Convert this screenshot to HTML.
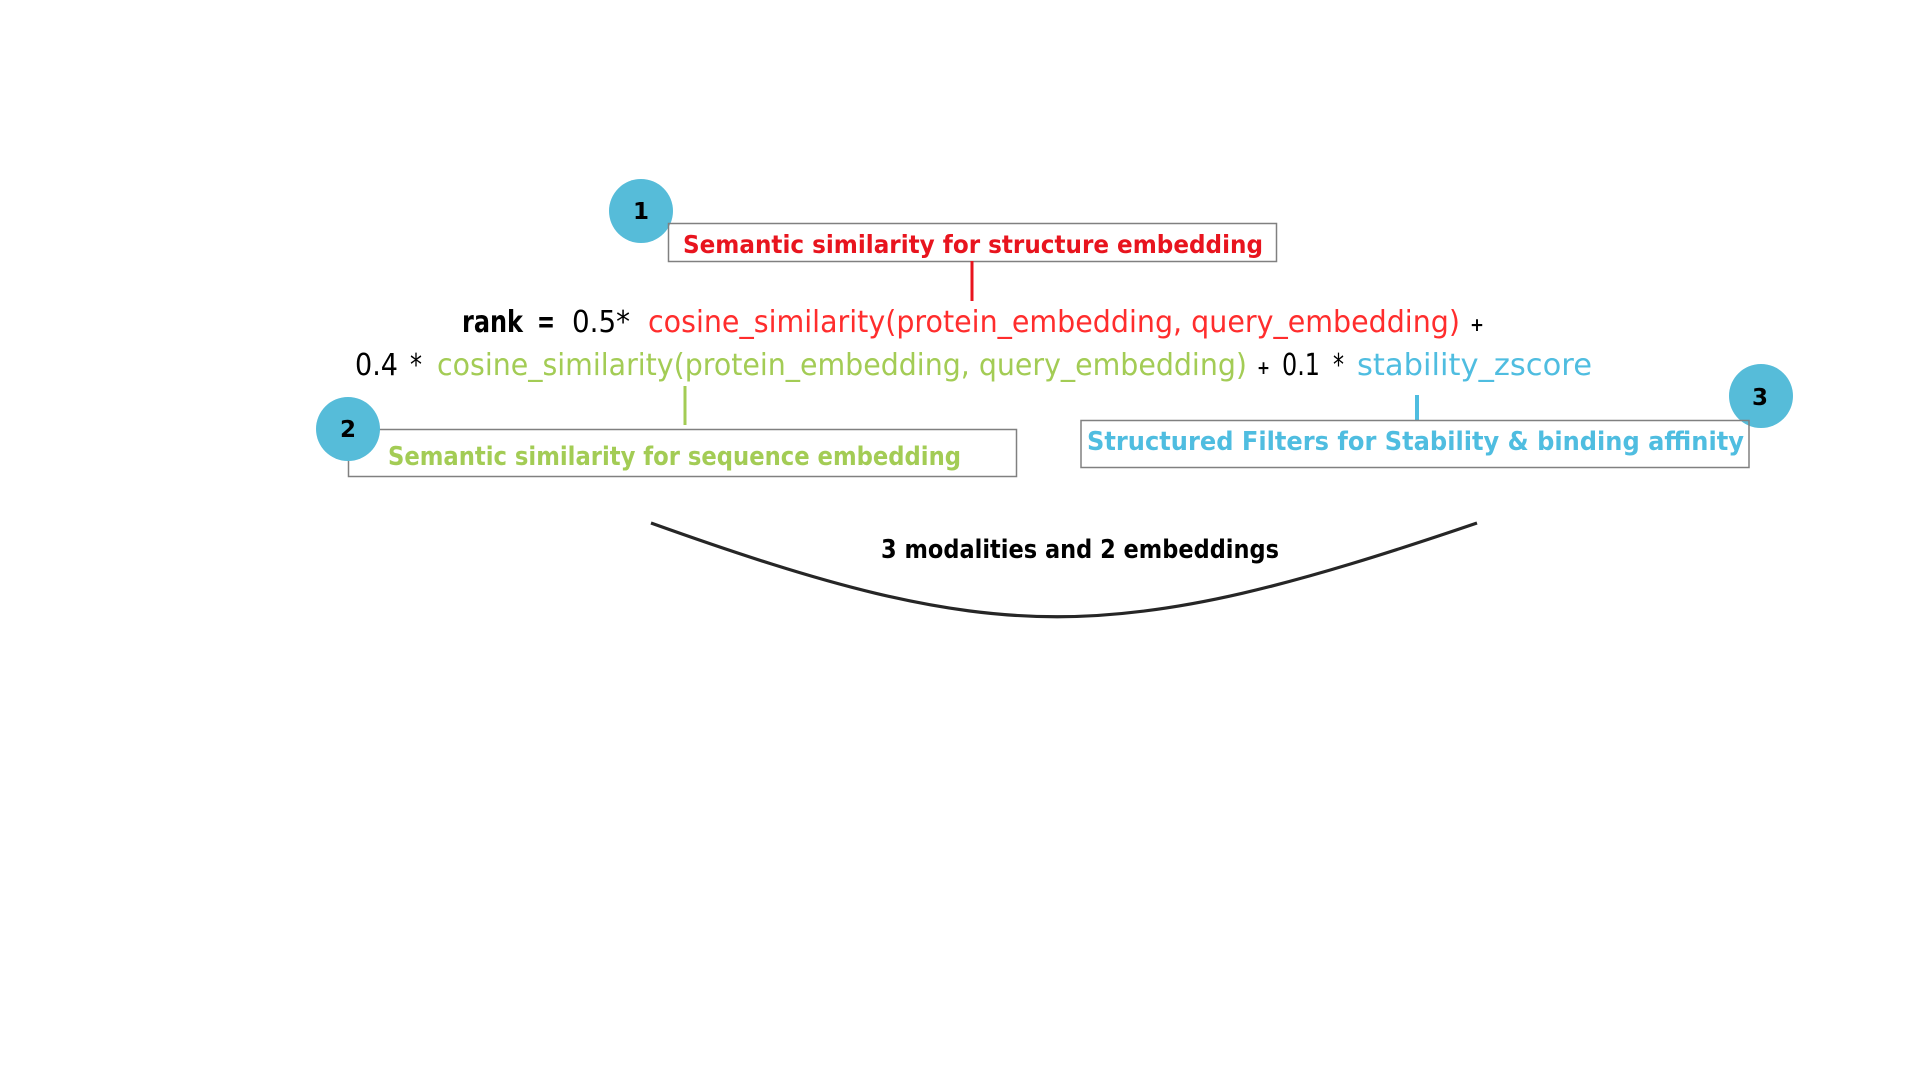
<!DOCTYPE html>
<html>
<head>
<meta charset="utf-8">
<style>
  html, body { margin: 0; padding: 0; background: #ffffff; }
  body { width: 1920px; height: 1080px; overflow: hidden; }
  svg { display: block; }
  .f { font-family: "Comic Sans MS", "DejaVu Sans", "Liberation Sans", sans-serif; }
</style>
</head>
<body>
<svg width="1920" height="1080" viewBox="0 0 1920 1080" xmlns="http://www.w3.org/2000/svg">
  <rect x="0" y="0" width="1920" height="1080" fill="#ffffff"/>

  <!-- Circle 1 -->
  <circle cx="641" cy="211" r="32" fill="#56bcd9"/>
  <text class="f" x="641" y="219" font-size="23" font-weight="bold" fill="#000" text-anchor="middle">1</text>

  <!-- Box 1 -->
  <rect x="668.5" y="223.5" width="608" height="38" fill="none" stroke="#808080" stroke-width="1.5"/>
  <text class="f" x="683" y="253" font-size="25" font-weight="bold" fill="#e8141e" textLength="580" lengthAdjust="spacingAndGlyphs">Semantic similarity for structure embedding</text>

  <!-- red connector -->
  <rect x="970.5" y="261" width="3" height="40" fill="#e8141e"/>

  <!-- Formula line 1 -->
  <text class="f" x="462" y="332" font-size="30" font-weight="bold" fill="#000" textLength="61" lengthAdjust="spacingAndGlyphs">rank</text>
  <text class="f" x="537" y="332" font-size="30" font-weight="bold" fill="#000" textLength="18" lengthAdjust="spacingAndGlyphs">=</text>
  <text class="f" x="572" y="332" font-size="30" fill="#000" textLength="58" lengthAdjust="spacingAndGlyphs">0.5*</text>
  <text class="f" x="648" y="332" font-size="30" fill="#ff2d2d" textLength="812" lengthAdjust="spacingAndGlyphs">cosine_similarity(protein_embedding, query_embedding)</text>
  <text class="f" x="1470" y="331" font-size="19" font-weight="bold" fill="#000" textLength="14" lengthAdjust="spacingAndGlyphs">+</text>

  <!-- Formula line 2 -->
  <text class="f" x="355" y="375" font-size="30" fill="#000" textLength="43" lengthAdjust="spacingAndGlyphs">0.4</text>
  <text class="f" x="410" y="375" font-size="30" fill="#000" textLength="12" lengthAdjust="spacingAndGlyphs">*</text>
  <text class="f" x="437" y="375" font-size="30" fill="#a3cc55" textLength="810" lengthAdjust="spacingAndGlyphs">cosine_similarity(protein_embedding, query_embedding)</text>
  <text class="f" x="1257" y="374" font-size="19" font-weight="bold" fill="#000" textLength="13" lengthAdjust="spacingAndGlyphs">+</text>
  <text class="f" x="1282" y="375" font-size="30" fill="#000" textLength="38" lengthAdjust="spacingAndGlyphs">0.1</text>
  <text class="f" x="1333" y="375" font-size="30" fill="#000" textLength="11" lengthAdjust="spacingAndGlyphs">*</text>
  <text class="f" x="1357" y="375" font-size="30" fill="#4fbde0" textLength="235" lengthAdjust="spacingAndGlyphs">stability_zscore</text>

  <!-- green connector -->
  <rect x="683.5" y="386" width="3" height="39" fill="#a3cc55"/>

  <!-- Box 2 -->
  <rect x="348.5" y="429.5" width="668" height="47" fill="none" stroke="#808080" stroke-width="1.5"/>
  <text class="f" x="388" y="465" font-size="26" font-weight="bold" fill="#a3cc55" textLength="573" lengthAdjust="spacingAndGlyphs">Semantic similarity for sequence embedding</text>

  <!-- Circle 2 -->
  <circle cx="348" cy="429" r="32" fill="#56bcd9"/>
  <text class="f" x="348" y="437" font-size="23" font-weight="bold" fill="#000" text-anchor="middle">2</text>

  <!-- blue connector -->
  <rect x="1415" y="395" width="4" height="25" fill="#4fbde0"/>

  <!-- Circle 3 -->
  <circle cx="1761" cy="396" r="32" fill="#56bcd9"/>
  <text class="f" x="1760" y="405" font-size="23" font-weight="bold" fill="#000" text-anchor="middle">3</text>

  <!-- Box 3 -->
  <rect x="1081" y="420.5" width="668" height="47" fill="none" stroke="#808080" stroke-width="1.5"/>
  <text class="f" x="1087" y="450" font-size="26" font-weight="bold" fill="#4fbde0" textLength="657" lengthAdjust="spacingAndGlyphs">Structured Filters for Stability &amp; binding affinity</text>

  <!-- Arc -->
  <path d="M651,523 C1000,648 1110,648 1477,523" fill="none" stroke="#262626" stroke-width="3.2"/>
  <text class="f" x="881" y="558" font-size="26" font-weight="bold" fill="#000" textLength="398" lengthAdjust="spacingAndGlyphs">3 modalities and 2 embeddings</text>
</svg>
</body>
</html>
